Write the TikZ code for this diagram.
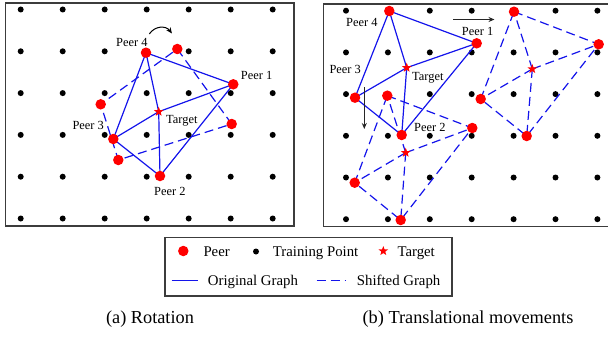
\documentclass[tikz,border=0pt]{standalone}
\usepackage{fontspec}
\setmainfont{Liberation Serif}
\usetikzlibrary{shapes.geometric,arrows.meta}
\definecolor{peerred}{RGB}{255,0,0}
\definecolor{edgeblue}{RGB}{20,20,235}
\definecolor{framegray}{RGB}{60,60,60}
\tikzset{
  tdot/.style={circle,fill=black,inner sep=0pt,minimum size=6pt},
  peer/.style={circle,fill=peerred,inner sep=0pt,minimum size=10.5pt},
  tgt/.style={star,star points=5,star point ratio=2.4,fill=peerred,inner sep=0pt,minimum size=10pt},
  orig/.style={edgeblue,line width=1.2pt},
  shifted/.style={edgeblue,line width=1.2pt,dash pattern=on 9pt off 5pt},
  frame/.style={framegray,line width=1.1pt},
  lbl/.style={anchor=base west,inner sep=0pt,font=\fontsize{12.4}{14}\selectfont},
  leg/.style={anchor=base west,inner sep=0pt,font=\fontsize{14.8}{17}\selectfont},
  captext/.style={anchor=base,inner sep=0pt,font=\fontsize{18.3}{21}\selectfont},
  mv/.style={-{Stealth[length=6pt,width=5pt]},line width=1pt,black!85}
}
\begin{document}
\begin{tikzpicture}[x=1pt,y=-1pt]
\useasboundingbox (0,0) rectangle (608,337);
% frames
\draw[frame] (5.5,3) rectangle (294,226);
\draw[frame] (615,4) -- (323.5,4) -- (323.5,226.5) -- (615,226.5);
% grids
\foreach \i in {0,...,6}{
  \foreach \j in {0,...,5}{
    \node[tdot] (L\i\j) at ({20.7+42*\i},{9.5+41.8*\j}) {};
    \node[tdot] (R\i\j) at ({346+41.9*\i},{10.7+41.7*\j}) {};
  }
}
% ---------- (a) rotation ----------
\coordinate (a4) at (146,52.7);
\coordinate (a1) at (233.3,84.3);
\coordinate (at) at (158.7,111.7);
\coordinate (a3) at (113.3,139);
\coordinate (a2) at (160,176);
\coordinate (b4) at (177.3,49);
\coordinate (b1) at (231.7,124);
\coordinate (b2) at (118.3,160);
\coordinate (b3) at (100.7,104.3);
\draw[shifted] (b4) -- (b1) -- (b2) -- (b3) -- (b4);
\draw[orig] (a4) -- (a1) -- (a2) -- (a3) -- (a4);
\draw[orig] (at) -- (a1) (at) -- (a2) (at) -- (a3) (at) -- (a4);
\foreach \p in {a1,a2,a3,a4,b1,b2,b3,b4} \node[peer] (n\p) at (\p) {};
\node[tgt] (nat) at (at) {};
\coordinate (rs) at (149.3,34);
\coordinate (re) at (172,33.5);
\draw[mv,black] (rs) .. controls (155,25.5) and (166,25.5) .. (re);
\node[lbl] (la4) at (116,46.7) {Peer 4};
\node[lbl] (la1) at (240.7,79.3) {Peer 1};
\node[lbl] (lat) at (166,123.3) {Target};
\node[lbl] (la3) at (72.3,129.3) {Peer 3};
\node[lbl] (la2) at (154,195) {Peer 2};
% ---------- (b) translation ----------
\coordinate (c4) at (389.3,11);
\coordinate (c1) at (476.7,43.3);
\coordinate (ct) at (406.7,67.7);
\coordinate (c3) at (355,97.7);
\coordinate (c2) at (401.7,135);
% shifted down
\coordinate (d4) at (387.3,95.7);
\coordinate (d1) at (472.3,128);
\coordinate (dt) at (405.7,152.7);
\coordinate (d3) at (354.7,182.7);
\coordinate (d2) at (400.7,220);
% shifted right
\coordinate (e4) at (514,11.7);
\coordinate (e1) at (598.7,44.3);
\coordinate (et) at (532.3,69);
\coordinate (e3) at (480.7,99);
\coordinate (e2) at (526.7,136);
\foreach \s in {d,e}{
  \draw[shifted] (\s4) -- (\s1) -- (\s2) -- (\s3) -- (\s4);
  \draw[shifted] (\s t) -- (\s1);
  \draw[shifted] (\s t) -- (\s2);
  \draw[shifted] (\s t) -- (\s3);
  \draw[shifted] (\s t) -- (\s4);
}
\draw[orig] (c4) -- (c1) -- (c2) -- (c3) -- (c4);
\draw[orig] (ct) -- (c1) (ct) -- (c2) (ct) -- (c3) (ct) -- (c4);
\foreach \p in {c1,c2,c3,c4,d1,d2,d3,d4,e1,e2,e3,e4} \node[peer] (n\p) at (\p) {};
\foreach \p in {ct,dt,et} \node[tgt] (n\p) at (\p) {};
\coordinate (hs) at (453,19.5);
\coordinate (he) at (494.5,19.5);
\draw[mv] (hs) -- (he);
\coordinate (vs) at (364.3,87.3);
\coordinate (ve) at (364.3,129);
\draw[mv] (vs) -- (ve);
\node[lbl] (lc4) at (346,26.7) {Peer 4};
\node[lbl] (lc1) at (461.7,35.3) {Peer 1};
\node[lbl] (lc3) at (329.3,74) {Peer 3};
\node[lbl] (lct) at (412,80.7) {Target};
\node[lbl] (lc2) at (414,131.7) {Peer 2};
% ---------- legend ----------
\draw[frame] (165,237.5) rectangle (452,296);
\node[peer] (kp) at (183.3,251) {};
\node[leg] (kpt) at (203.3,256.7) {Peer};
\node[tdot] (kd) at (256,251.5) {};
\node[leg] (kdt) at (272.7,256.7) {Training Point};
\node[tgt] (ks) at (383.3,251) {};
\node[leg] (kst) at (397.3,256.7) {Target};
\coordinate (ko1) at (171.7,280.5);
\coordinate (ko2) at (198.3,280.5);
\draw[orig] (ko1) -- (ko2);
\node[leg] (kot) at (207.7,285.7) {Original Graph};
\coordinate (ks1) at (316.7,280.5);
\coordinate (ks2) at (345,280.5);
\draw[shifted,dash pattern=on 9pt off 5pt] (ks1) -- (ks2);
\node[leg] (kst2) at (356.7,285.7) {Shifted Graph};
% ---------- captions ----------
\node[captext] (capa) at (150,323) {(a) Rotation};
\node[captext] (capb) at (468,323) {(b) Translational movements};
\end{tikzpicture}
\end{document}
